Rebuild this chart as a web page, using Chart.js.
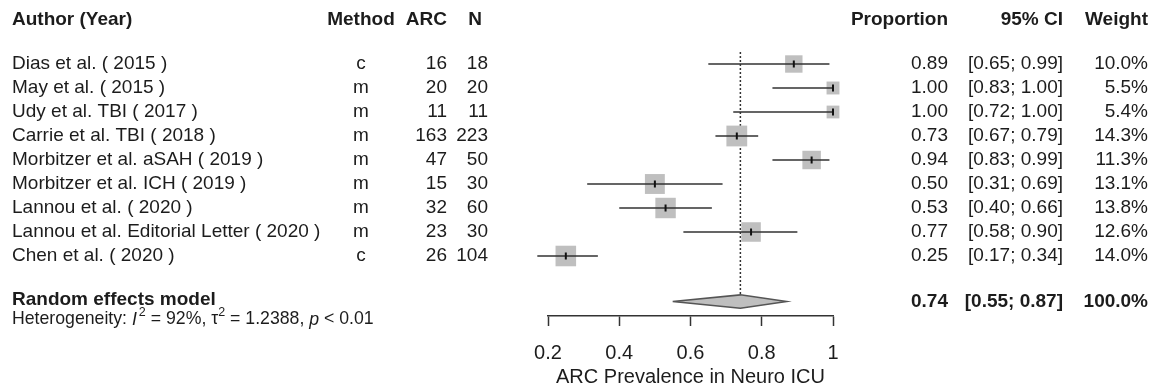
<!DOCTYPE html>
<html>
<head>
<meta charset="utf-8">
<script src="https://cdn.jsdelivr.net/npm/chart.js@4.4.1/dist/chart.umd.min.js"></script>
<style>
  html, body { margin: 0; padding: 0; background: #ffffff; }
  #wrap { width: 1156px; height: 389px; position: relative; }
</style>
</head>
<body>
<div id="wrap"><canvas id="c" width="1156" height="389"></canvas></div>
<script>
// ---------------- data ----------------
const authors = [
  'Dias et al. ( 2015 )',
  'May et al. ( 2015 )',
  'Udy et al. TBI ( 2017 )',
  'Carrie et al. TBI ( 2018 )',
  'Morbitzer et al. aSAH ( 2019 )',
  'Morbitzer et al. ICH ( 2019 )',
  'Lannou et al. ( 2020 )',
  'Lannou et al. Editorial Letter ( 2020 )',
  'Chen et al. ( 2020 )'
];
const methods = ['c', 'm', 'm', 'm', 'm', 'm', 'm', 'm', 'c'];
const arcCounts = [16, 20, 11, 163, 47, 15, 32, 23, 26];
const totals = [18, 20, 11, 223, 50, 30, 60, 30, 104];
const proportions = [0.89, 1.00, 1.00, 0.73, 0.94, 0.50, 0.53, 0.77, 0.25];
const ciLower = [0.65, 0.83, 0.72, 0.67, 0.83, 0.31, 0.40, 0.58, 0.17];
const ciUpper = [0.99, 1.00, 1.00, 0.79, 0.99, 0.69, 0.66, 0.90, 0.34];
const weights = [10.0, 5.5, 5.4, 14.3, 11.3, 13.1, 13.8, 12.6, 14.0];
const pooledEstimate = 0.74;
const pooledLower = 0.55;
const pooledUpper = 0.87;
const pooledWeight = '100.0%';
const heterogeneity = { i2: '92%', tau2: '1.2388', p: '< 0.01' };
const xTickValues = [0.2, 0.4, 0.6, 0.8, 1];
const xTickLabels = ['0.2', '0.4', '0.6', '0.8', '1'];
const xAxisTitle = 'ARC Prevalence in Neuro ICU';
const headers = ['Author (Year)', 'Method', 'ARC', 'N', 'Proportion', '95% CI', 'Weight'];

// ---------------- layout (rows on the y scale) ----------------
const studyRows = authors.map((_, i) => i + 1);
const headerRow = -0.85;
const pooledRow = 10.9;
const hetRow = 11.65;
const TEXT = '#1c1c1c';
const FONT = '"Liberation Sans", Arial, sans-serif';

// CI segments with gaps
const ciData = [];
studyRows.forEach((r, i) => {
  ciData.push({ x: ciLower[i], y: r });
  ciData.push({ x: ciUpper[i], y: r });
  ciData.push({ x: ciUpper[i], y: null });
});
const squareData = studyRows.map((r, i) => ({ x: proportions[i], y: r }));
const squareRadius = weights.map(w => (5.5 * Math.sqrt(w)) / Math.SQRT2);
const diamondH = 0.28;
const diamondData = [
  { x: pooledLower, y: pooledRow },
  { x: pooledEstimate, y: pooledRow - diamondH },
  { x: pooledUpper, y: pooledRow },
  { x: pooledEstimate, y: pooledRow + diamondH },
  { x: pooledLower, y: pooledRow }
];
const refLine = [
  { x: pooledEstimate, y: 0.5 },
  { x: pooledEstimate, y: pooledRow - diamondH }
];

function fmt2(v) { return v.toFixed(2); }

const tablePlugin = {
  id: 'forestTable',
  afterDraw(chart) {
    const ctx = chart.ctx;
    const ys = chart.scales.y;
    const put = (t, x, y, align, font) => {
      ctx.font = font;
      ctx.textAlign = align;
      ctx.fillText(t, x, y);
    };
    ctx.save();
    ctx.fillStyle = TEXT;
    ctx.textBaseline = 'middle';
    const bold = 'bold 19px ' + FONT;
    const reg = '19px ' + FONT;

    const hy = ys.getPixelForValue(headerRow);
    put(headers[0], 12, hy, 'left', bold);
    put(headers[1], 361, hy, 'center', bold);
    put(headers[2], 447, hy, 'right', bold);
    put(headers[3], 482, hy, 'right', bold);
    put(headers[4], 948, hy, 'right', bold);
    put(headers[5], 1063, hy, 'right', bold);
    put(headers[6], 1148, hy, 'right', bold);

    studyRows.forEach((r, i) => {
      const y = ys.getPixelForValue(r);
      put(authors[i], 12, y, 'left', reg);
      put(methods[i], 361, y, 'center', reg);
      put(String(arcCounts[i]), 447, y, 'right', reg);
      put(String(totals[i]), 488, y, 'right', reg);
      put(fmt2(proportions[i]), 948, y, 'right', reg);
      put('[' + fmt2(ciLower[i]) + '; ' + fmt2(ciUpper[i]) + ']', 1063, y, 'right', reg);
      put(weights[i].toFixed(1) + '%', 1148, y, 'right', reg);
    });

    const py = ys.getPixelForValue(pooledRow);
    put('Random effects model', 12, py - 2, 'left', bold);
    put(fmt2(pooledEstimate), 948, py, 'right', bold);
    put('[' + fmt2(pooledLower) + '; ' + fmt2(pooledUpper) + ']', 1063, py, 'right', bold);
    put(pooledWeight, 1148, py, 'right', bold);

    // heterogeneity line
    const hty = ys.getPixelForValue(hetRow);
    const sz = 17.7;
    const nf = sz + 'px ' + FONT;
    const itf = 'italic ' + sz + 'px ' + FONT;
    const supf = '12.5px ' + FONT;
    const parts = [
      ['Heterogeneity: ', nf, 0],
      ['I', itf, 0],
      ['2', supf, -7],
      [' = ' + heterogeneity.i2 + ', ', nf, 0],
      ['\u03C4', nf, 0],
      ['2', supf, -7],
      [' = ' + heterogeneity.tau2 + ', ', nf, 0],
      ['p', itf, 0],
      [' ' + heterogeneity.p, nf, 0]
    ];
    let x = 12;
    ctx.textAlign = 'left';
    parts.forEach(([t, f, dy]) => {
      ctx.font = f;
      ctx.fillText(t, x, hty + dy);
      x += ctx.measureText(t).width + (t === 'I' ? 2 : 0);
    });
    ctx.restore();
  }
};

new Chart(document.getElementById('c'), {
  type: 'scatter',
  data: {
    datasets: [
      {
        label: 'ref',
        data: refLine,
        showLine: true,
        borderColor: '#333333',
        borderWidth: 1.5,
        borderDash: [2, 2],
        pointRadius: 0,
        clip: false,
        order: 5
      },
      {
        label: 'squares',
        data: squareData,
        pointStyle: 'rect',
        pointRadius: squareRadius,
        pointBackgroundColor: '#bfbfbf',
        pointBorderWidth: 0,
        pointBorderColor: 'rgba(0,0,0,0)',
        clip: false,
        order: 4
      },
      {
        label: 'ci',
        data: ciData,
        showLine: true,
        spanGaps: false,
        borderColor: '#333333',
        borderWidth: 1.7,
        pointRadius: 0,
        clip: false,
        order: 3
      },
      {
        label: 'estimate',
        data: squareData,
        pointStyle: 'line',
        rotation: 90,
        pointRadius: 3.5,
        pointBorderColor: '#111111',
        pointBorderWidth: 2,
        clip: false,
        order: 2
      },
      {
        label: 'diamond',
        data: diamondData,
        showLine: true,
        fill: 'shape',
        backgroundColor: '#bfbfbf',
        borderColor: '#555555',
        borderWidth: 1.5,
        pointRadius: 0,
        tension: 0,
        clip: false,
        order: 1
      }
    ]
  },
  options: {
    responsive: false,
    animation: false,
    events: [],
    layout: { padding: { left: 548, right: 323, top: 16, bottom: 0 } },
    plugins: { legend: { display: false }, tooltip: { enabled: false }, filler: { propagate: false } },
    scales: {
      x: {
        type: 'linear',
        min: 0.2,
        max: 1,
        afterBuildTicks: (scale) => { scale.ticks = xTickValues.map(v => ({ value: v })); },
        afterFit: (scale) => { scale.height = 73; },
        ticks: {
          callback: (v) => { const k = xTickValues.findIndex(t => Math.abs(t - v) < 1e-9); return k >= 0 ? xTickLabels[k] : ''; },
          font: { family: FONT, size: 20 },
          color: TEXT,
          padding: 15,
          maxRotation: 0,
          autoSkip: false
        },
        grid: { drawOnChartArea: false, drawTicks: true, tickLength: 10, tickColor: '#333333', tickWidth: 1.5 },
        border: { display: true, color: '#333333', width: 1.5 },
        title: { display: true, text: xAxisTitle, font: { family: FONT, size: 20 }, color: TEXT, padding: { top: 0, bottom: 0 } }
      },
      y: {
        type: 'linear',
        display: false,
        reverse: true,
        min: -1,
        max: 11.5
      }
    }
  },
  plugins: [tablePlugin]
});
</script>
</body>
</html>
